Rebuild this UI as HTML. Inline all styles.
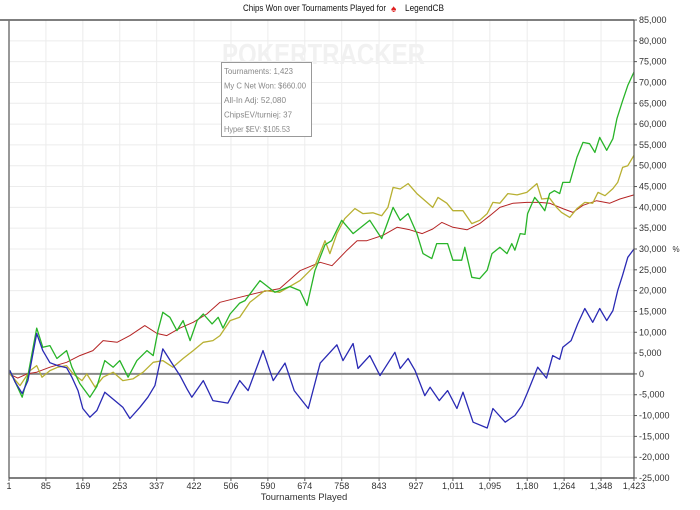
<!DOCTYPE html>
<html><head><meta charset="utf-8"><style>
body{margin:0;background:#fff;width:700px;height:505px;overflow:hidden;font-family:"Liberation Sans",Arial,sans-serif}
svg text{font-family:"Liberation Sans",Arial,sans-serif}
</style></head><body>
<svg id="c" width="700" height="505"></svg>
<script>
const xTicks=[1,85,169,253,337,422,506,590,674,758,843,927,1011,1095,1180,1264,1348,1423];
const yTicks=[85000,80000,75000,70000,65000,60000,55000,50000,45000,40000,35000,30000,25000,20000,15000,10000,5000,0,-5000,-10000,-15000,-20000,-25000];
const blueT=[1,3,15,31,44,64,78,94,112,132,144,158,169,185,201,219,242,260,276,299,317,333,351,372,390,406,417,443,465,499,526,545,579,602,629,650,682,709,747,761,784,795,822,845,879,891,909,925,947,959,980,999,1020,1034,1057,1089,1102,1130,1152,1168,1181,1204,1224,1238,1254,1261,1280,1295,1311,1329,1345,1361,1375,1386,1397,1409,1423];
const blueV=[0,0.8,-2,-4.7,-1.6,9.7,5.6,2.7,2,1.5,-0.8,-4,-8.3,-10.4,-8.8,-4.4,-6.4,-8,-10.7,-8,-5.6,-2.8,6,2.5,-0.4,-3.6,-5.6,-1.6,-6.4,-7,-1.6,-4,5.6,-1.6,2.6,-4,-8.3,2.6,7,3.2,7.3,1.3,4.4,-0.4,5.2,1.3,3.7,0.8,-5.2,-3.2,-6.4,-4,-8.3,-4.4,-11.6,-13,-8.3,-11.6,-10,-7.6,-4.4,1.6,-1,4.4,3.5,6.4,8,12,15.7,12.4,15.7,12.8,15.2,20,23.7,28,30];
const greenT=[1,3,31,44,64,78,94,110,132,144,162,185,201,219,238,253,272,292,315,329,340,351,367,383,397,413,429,443,463,477,488,504,526,538,572,606,640,663,679,697,720,735,758,784,822,849,875,891,909,929,943,963,974,999,1011,1031,1038,1054,1072,1089,1100,1118,1134,1145,1152,1164,1175,1181,1197,1208,1220,1231,1242,1254,1261,1277,1293,1307,1322,1334,1345,1361,1375,1384,1397,1409,1423];
const greenV=[0,0.8,-5.6,-0.4,11,6.4,6.8,3.7,5.6,1.6,-2.3,-5.6,-3,3.2,1.6,3.2,-0.8,3.2,5.6,4.4,10.4,14.8,13.6,10.4,12.8,8,12.8,14.4,12,13.6,11,14.4,17,17.6,22.4,19.6,21,20,16.4,24.8,31,32,36.9,33.7,36.9,32.5,40,36.9,38.5,33.7,28.9,27.7,31.3,31.3,27.3,27.3,30.4,23.2,22.9,24.9,28.9,30.4,28.9,31.3,29.7,33.7,33.5,38.5,42.4,41,39.2,43.3,44,43.3,46,46,52,55.6,55.3,53.2,56.8,53.7,56.5,61.3,65.6,69.3,72.5];
const oliveT=[1,3,26,49,64,76,94,112,132,147,167,178,197,215,238,260,283,306,329,351,374,397,420,443,465,481,504,526,549,583,617,663,697,720,731,747,765,788,806,829,849,863,875,891,909,929,952,965,977,997,1011,1034,1054,1072,1089,1102,1118,1136,1157,1179,1202,1213,1231,1247,1258,1277,1293,1311,1329,1341,1357,1375,1386,1397,1409,1423];
const oliveV=[0,0,-2.8,0.8,2,-0.8,0.8,1.6,2,0,-1.6,0,-3.2,-0.8,0.4,-1.6,-1.2,0.4,2.8,3.2,1.6,3.7,5.6,7.6,8,9.2,12.8,13.6,17.2,20,19.6,22.4,26,32,28.9,33.7,37.3,39.7,38.5,38.7,38,40,44.8,44.4,45.7,43.3,41.2,40,42.4,41,39.2,39.2,36.1,36.9,38.5,41.2,41,43.3,43,43.6,45.7,42,42.2,40,38.8,37.6,39.7,41.2,41,43.6,42.8,44.5,46,49.6,50,52.5];
const redT=[1,21,42,64,94,132,162,192,215,247,276,310,338,360,390,420,451,481,526,572,617,663,709,736,770,793,815,852,884,913,941,965,986,1011,1043,1072,1095,1118,1148,1179,1208,1231,1261,1284,1307,1338,1368,1391,1423];
const redV=[0,-1,0,0.4,1.6,2.8,4.4,5.6,8,7.6,9.2,11.6,9.7,9.2,11,12.4,14.4,17.2,18.4,19.6,20.5,24.8,26.8,26,29.7,32,32,33.3,35.2,34.6,33.7,34.8,36.4,35.2,34.6,36.1,38,40,41,41.2,41.2,41,39.7,38.8,40.5,41.6,41,42,43];

const NS="http://www.w3.org/2000/svg";
const svg=document.getElementById('c');
const L=9,R=634,T=20,B=478;
const xs=t=>L+(t-1)/1422*(R-L);
const ys=v=>T+(85000-v)/110000*(B-T);
function el(tag,attrs,parent){const e=document.createElementNS(NS,tag);for(const k in attrs)e.setAttribute(k,attrs[k]);(parent||svg).appendChild(e);return e;}

const grid=el('g',{});


yTicks.forEach(v=>{el('line',{x1:L,x2:R,y1:ys(v),y2:ys(v),stroke:'#ececec','stroke-width':1},grid);});
xTicks.forEach(t=>{el('line',{x1:xs(t),x2:xs(t),y1:T,y2:B,stroke:'#ececec','stroke-width':1},grid);});

const wm=el('text',{x:222,y:64,'font-size':29,fill:'#f1f1f1','font-weight':'bold',textLength:203,lengthAdjust:'spacingAndGlyphs'});


wm.textContent='POKERTRACKER';

const z=el('line',{x1:L,x2:R,y1:ys(0),y2:ys(0),stroke:'#888','stroke-width':2});



function series(T_,V,color,name){
  const d=T_.map((t,i)=>(i?'L':'M')+xs(t).toFixed(1)+','+ys(V[i]*1000).toFixed(1)).join(' ');
  const p=el('path',{d:d,fill:'none',stroke:color,'stroke-width':name==='red-series'?1:1.3,'stroke-linejoin':'round'});
  
  
}
series(redT,redV,'#b52424','red-series');
series(oliveT,oliveV,'#b8b032','olive-series');
series(greenT,greenV,'#28b428','green-series');
series(blueT,blueV,'#2a2ab4','blue-series');

const ax=el('g',{});


el('line',{x1:0,x2:R,y1:T,y2:T,stroke:'#555','stroke-width':1.5},ax);
el('line',{x1:L,x2:L,y1:T,y2:B,stroke:'#777','stroke-width':1.5},ax);
el('line',{x1:R,x2:R,y1:T,y2:B,stroke:'#555','stroke-width':1.2},ax);
el('line',{x1:L,x2:R,y1:B,y2:B,stroke:'#555','stroke-width':1.5},ax);

yTicks.forEach(v=>{
  const y=ys(v);
  el('line',{x1:R,x2:R+3,y1:y,y2:y,stroke:'#555'},ax);
  const tx=el('text',{x:R+5,y:y+3,'font-size':9,fill:'#333'});
  
  
  tx.textContent=(v<0?'-':'')+Math.abs(v).toLocaleString('en-US');
});
xTicks.forEach(t=>{
  const x=xs(t);
  el('line',{x1:x,x2:x,y1:B,y2:B+3,stroke:'#555'},ax);
  const tx=el('text',{x:x,y:B+11,'font-size':9,fill:'#333','text-anchor':'middle'});
  
  
  tx.textContent=t.toLocaleString('en-US');
});
const xt=el('text',{x:304,y:500,'font-size':9.5,fill:'#333','text-anchor':'middle'});


xt.textContent='Tournaments Played';
const pc=el('text',{x:676,y:252,'font-size':8,fill:'#333','text-anchor':'middle'});


pc.textContent='%';

const tt=el('text',{x:243,y:11,'font-size':9.5,fill:'#111',textLength:143,lengthAdjust:'spacingAndGlyphs'});


tt.textContent='Chips Won over Tournaments Played for';
const sp=el('text',{x:391,y:12,'font-size':10,fill:'#e02020'});


sp.textContent='♠';
const pn=el('text',{x:405,y:11,'font-size':9.5,fill:'#111',textLength:39,lengthAdjust:'spacingAndGlyphs'});


pn.textContent='LegendCB';

const tip=el('g',{});


el('rect',{x:221.5,y:62.5,width:90,height:74,fill:'#fff',stroke:'#999'},tip);
const tipLines=['Tournaments: 1,423','My C Net Won: $660.00','All-In Adj: 52,080','ChipsEV/turniej: 37','Hyper $EV: $105.53'];
const tipW=[69,82,62,68,66];
tipLines.forEach((s,i)=>{
  const t=el('text',{x:224,y:74+i*14.5,'font-size':8,fill:'#888',textLength:tipW[i],lengthAdjust:'spacingAndGlyphs'},tip);
  
  
  t.textContent=s;
});
</script>
</body></html>
